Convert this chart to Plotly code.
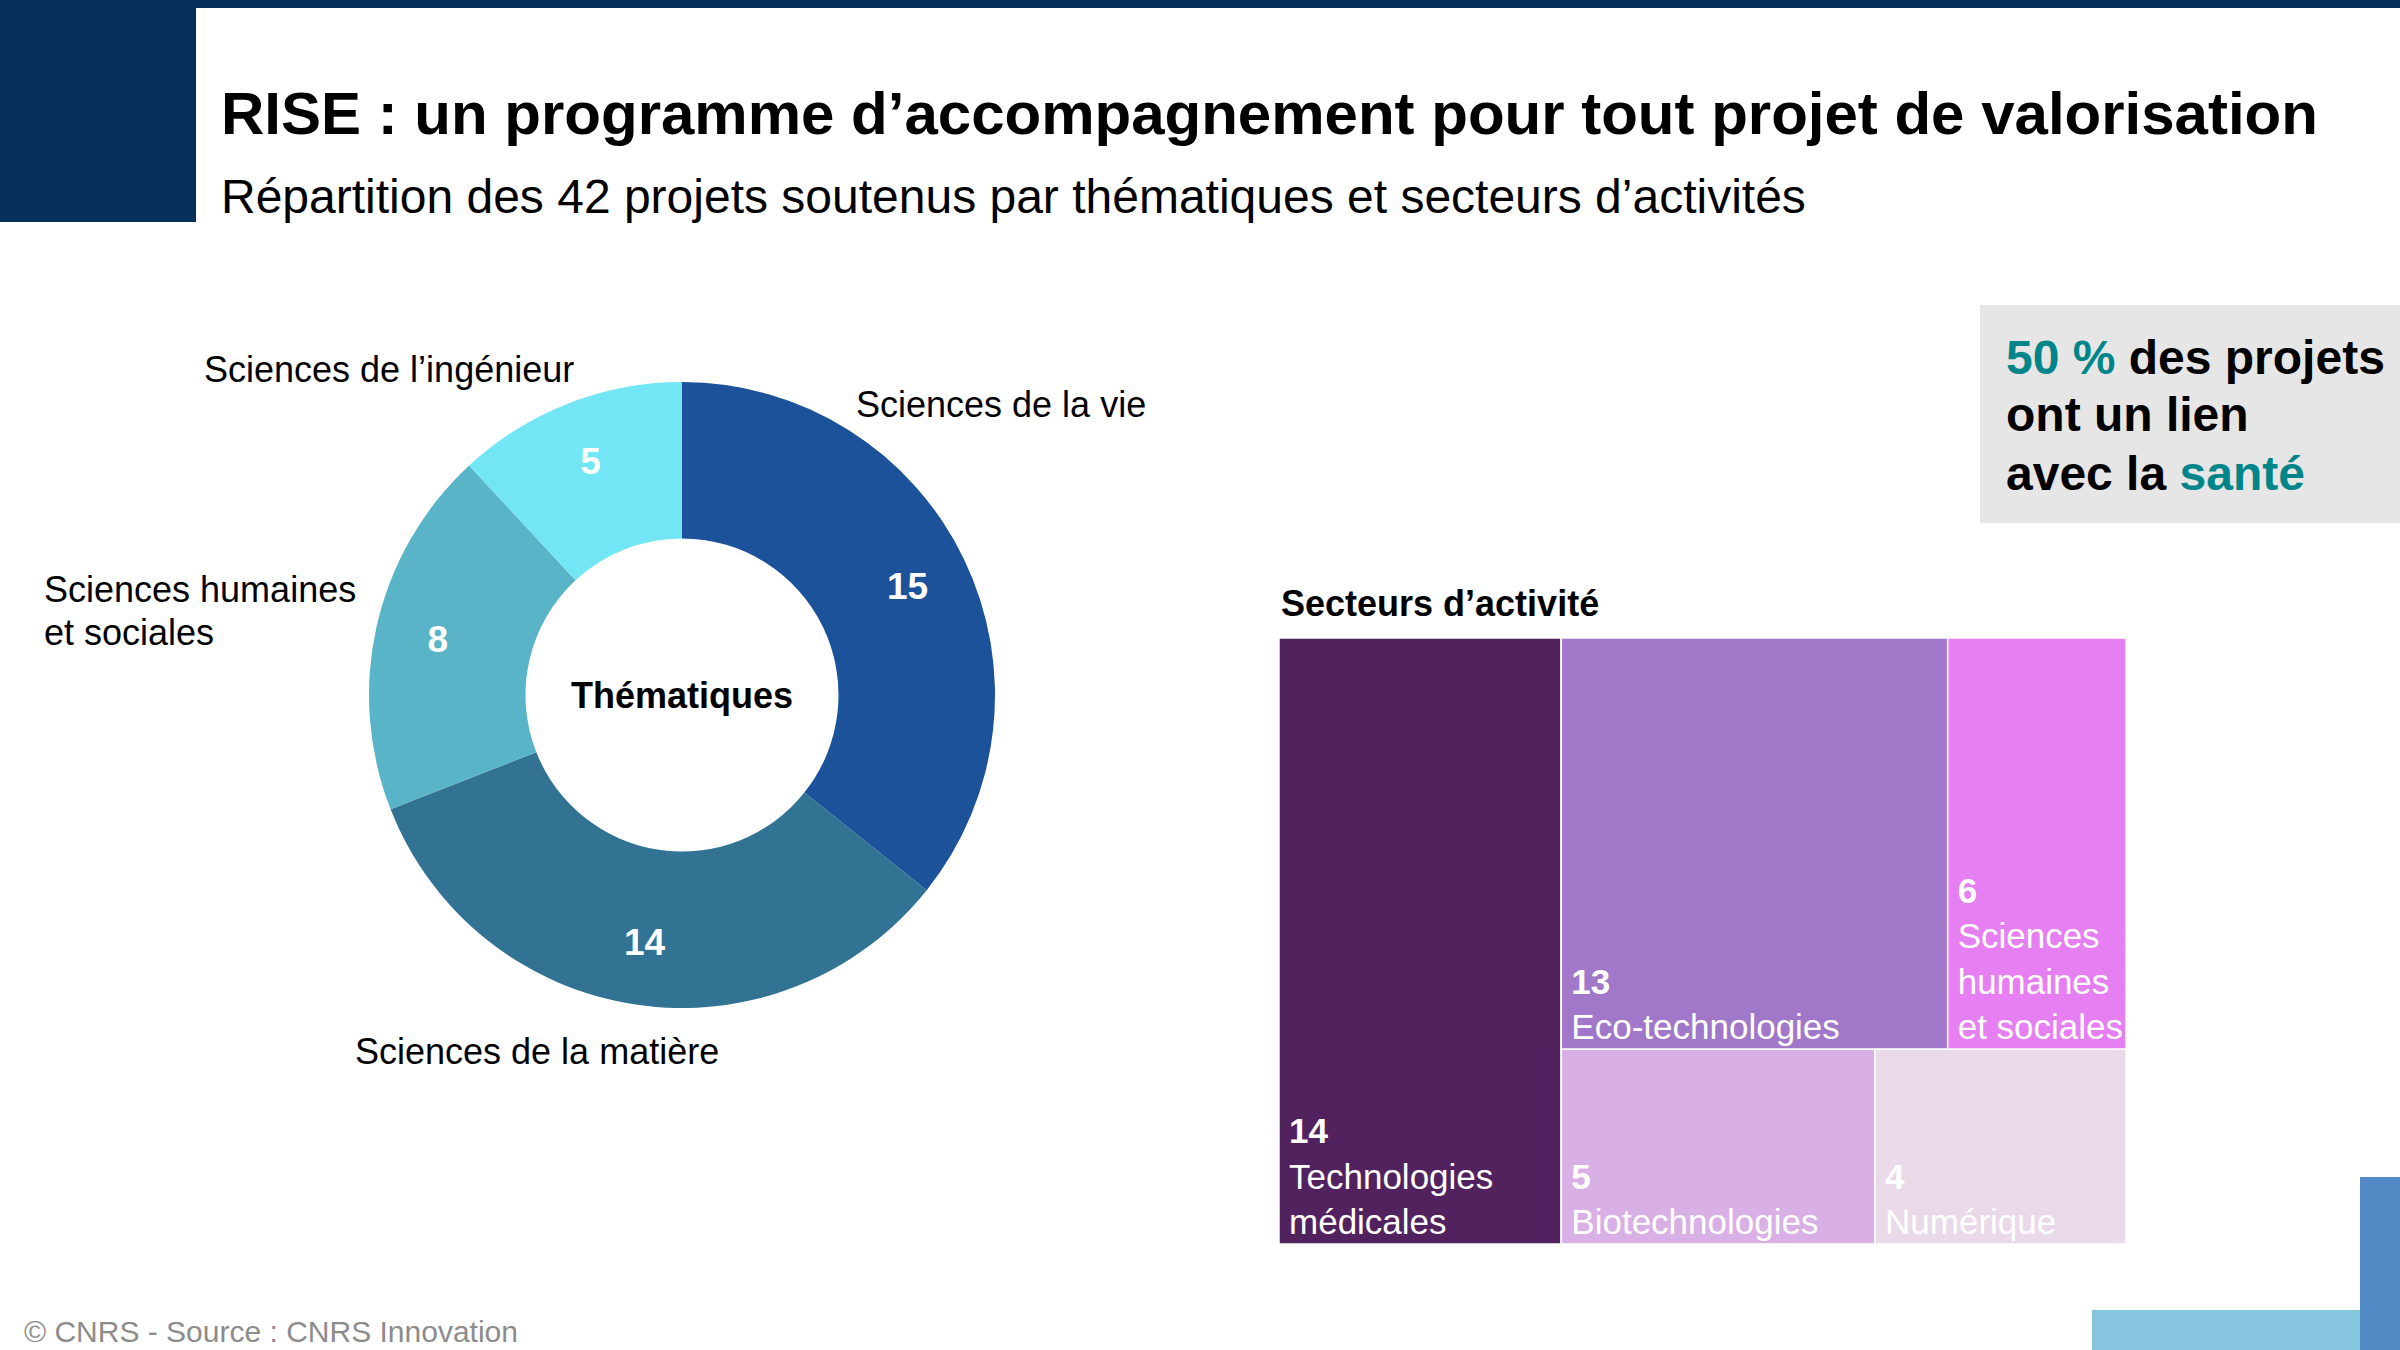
import plotly.graph_objects as go

# ---------------- data ----------------
TITLE = "RISE : un programme d’accompagnement pour tout projet de valorisation"
SUBTITLE = "Répartition des 42 projets soutenus par thématiques et secteurs d’activités"
FOOTER = "© CNRS - Source : CNRS Innovation"

theme_labels = ["Sciences de la vie", "Sciences de la matière",
                "Sciences humaines et sociales", "Sciences de l’ingénieur"]
theme_values = [15, 14, 8, 5]
theme_colors = ["#1C5299", "#327394", "#58B4C6", "#73E6F5"]

sector_labels = ["Technologies médicales", "Eco-technologies",
                 "Sciences humaines et sociales", "Biotechnologies", "Numérique"]
sector_values = [14, 13, 6, 5, 4]
sector_colors = ["#52225F", "#A178C9", "#E67FF1", "#D9B0E6", "#EAD9E8"]
# layout grouping of the sectors (which cells share a row / column)
sector_group = ["", "G_top", "G_top", "G_bot", "G_bot"]
group_parent = {"G_right": "", "G_top": "G_right", "G_bot": "G_right"}

FONT = "Liberation Sans, Arial, sans-serif"
W, H = 2400, 1350


def px(x):
    return x / W


def py(y):
    return 1 - y / H


fig = go.Figure()

# ---------------- donut ----------------
cx, cy, r = 682, 695, 313
pie_domain = dict(x=[px(cx - r), px(cx + r)], y=[py(cy + r), py(cy - r)])
fig.add_trace(go.Pie(
    labels=theme_labels, values=theme_values,
    marker=dict(colors=theme_colors, line=dict(width=0)),
    hole=0.5, sort=False, direction="clockwise", rotation=0,
    textinfo="none",
    domain=pie_domain, showlegend=False, hoverinfo="label+value",
))
# value labels, placed in the outer part of the ring
fig.add_trace(go.Pie(
    labels=theme_labels, values=theme_values,
    marker=dict(colors=["rgba(0,0,0,0)"] * len(theme_values), line=dict(width=0)),
    hole=0.6, sort=False, direction="clockwise", rotation=0,
    textinfo="value", textposition="inside", insidetextorientation="horizontal",
    textfont=dict(family=FONT, size=37, color="white", weight="bold"),
    domain=pie_domain, showlegend=False, hoverinfo="skip",
))

# ---------------- treemap ----------------
gsum = {}
for v, g in zip(sector_values, sector_group):
    gg = g
    while gg:
        gsum[gg] = gsum.get(gg, 0) + v
        gg = group_parent[gg]

display = {
    "Technologies médicales": ["Technologies", "médicales"],
    "Eco-technologies": ["Eco-technologies"],
    "Sciences humaines et sociales": ["Sciences", "humaines", "et sociales"],
    "Biotechnologies": ["Biotechnologies"],
    "Numérique": ["Numérique"],
}
SP = "\u2009"

ids, labels, parents, values, colors, texts = [], [], [], [], [], []


def add_leaf(i):
    lab = sector_labels[i]
    ids.append(lab); labels.append(lab); parents.append(sector_group[i])
    values.append(sector_values[i]); colors.append(sector_colors[i])
    lines = [f"{SP}<b>{sector_values[i]}</b>"] + [SP + t for t in display[lab]]
    texts.append("<br>".join(lines))


def add_group(g):
    ids.append(g); labels.append(""); parents.append(group_parent[g])
    values.append(gsum[g]); colors.append("white"); texts.append("")


add_leaf(0)
add_group("G_right")
add_group("G_top")
add_group("G_bot")
for i in range(1, len(sector_labels)):
    add_leaf(i)

tx0, ty0, tx1, ty1 = 1279, 638, 2126, 1244
fig.add_trace(go.Treemap(
    ids=ids, labels=labels, parents=parents, values=values,
    branchvalues="total", sort=False,
    text=texts, texttemplate="%{text}", textposition="bottom left",
    textfont=dict(family=FONT, size=35, color="white"),
    marker=dict(colors=colors, line=dict(width=1.5, color="white"),
                pad=dict(t=0, l=0, r=0, b=0)),
    tiling=dict(packing="squarify", pad=0),
    pathbar=dict(visible=False),
    domain=dict(x=[px(tx0), px(tx1)], y=[py(ty1), py(ty0)]),
    hoverinfo="label+value",
))

# ---------------- decorations ----------------
NAVY = "#06305A"
shapes = [
    dict(type="rect", xref="paper", yref="paper", x0=0, x1=1, y0=py(8), y1=1,
         fillcolor=NAVY, line=dict(width=0)),
    dict(type="rect", xref="paper", yref="paper", x0=0, x1=px(196), y0=py(222), y1=1,
         fillcolor=NAVY, line=dict(width=0)),
    dict(type="rect", xref="paper", yref="paper", x0=px(1980), x1=1, y0=py(523), y1=py(305),
         fillcolor="#E6E6E6", line=dict(width=0), layer="below"),
    dict(type="rect", xref="paper", yref="paper", x0=px(2092), x1=px(2360), y0=0, y1=py(1310),
         fillcolor="#85C5E0", line=dict(width=0)),
    dict(type="rect", xref="paper", yref="paper", x0=px(2360), x1=1, y0=0, y1=py(1177),
         fillcolor="#5189C4", line=dict(width=0)),
]

TEAL = "#00868A"
annotations = [
    dict(text=f"<b>{TITLE}</b>", x=px(219), y=py(113), xanchor="left", yanchor="middle",
         font=dict(family=FONT, size=60, color="black")),
    dict(text=SUBTITLE, x=px(219), y=py(197), xanchor="left", yanchor="middle",
         font=dict(family=FONT, size=48, color="black")),
    dict(text=FOOTER, x=px(22), y=py(1331), xanchor="left", yanchor="middle",
         font=dict(family=FONT, size=30, color="#8C8C8C")),
    dict(text="<b>Thématiques</b>", x=px(cx), y=py(cy), xanchor="center", yanchor="middle",
         font=dict(family=FONT, size=36, color="black")),
    dict(text="<b>Secteurs d’activité</b>", x=px(1279), y=py(603), xanchor="left", yanchor="middle",
         font=dict(family=FONT, size=36, color="black")),
]
# highlight box, one annotation per line
box_lines = [
    f"<b><span style='color:{TEAL}'>50 %</span> des projets</b>",
    "<b>ont un lien</b>",
    f"<b>avec la <span style='color:{TEAL}'>santé</span></b>",
]
for line, y in zip(box_lines, [357, 415, 473]):
    annotations.append(dict(text=line, x=px(2004), y=py(y), xanchor="left", yanchor="middle",
                            font=dict(family=FONT, size=48, color="black")))

# donut outer labels (one annotation per text line)
label_lines = {
    "Sciences de la vie": [("Sciences de la vie", 854, 404)],
    "Sciences de la matière": [("Sciences de la matière", 353, 1051)],
    "Sciences humaines et sociales": [("Sciences humaines", 42, 589), ("et sociales", 42, 632)],
    "Sciences de l’ingénieur": [("Sciences de l’ingénieur", 202, 369)],
}
for lab in theme_labels:
    for txt, x, y in label_lines[lab]:
        annotations.append(dict(text=txt, x=px(x), y=py(y), xanchor="left",
                                yanchor="middle", align="left",
                                font=dict(family=FONT, size=36, color="black")))
for a in annotations:
    a.update(xref="paper", yref="paper", showarrow=False)

fig.update_layout(
    width=W, height=H, margin=dict(l=0, r=0, t=0, b=0),
    paper_bgcolor="white", plot_bgcolor="white",
    shapes=shapes, annotations=annotations,
    font=dict(family=FONT),
)
fig.write_html("out.html", config={"displayModeBar": False},
               post_script="document.body.style.margin='0';document.body.style.overflow='hidden';")
